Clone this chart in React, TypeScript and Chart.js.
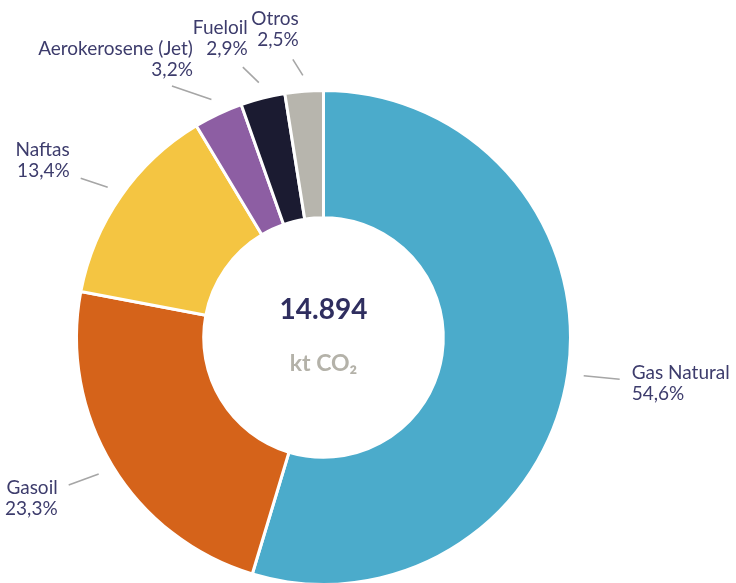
import React, { useEffect, useRef } from "react";
import { Chart, registerables } from "chart.js";

Chart.register(...registerables);

const categories = ["Gas Natural", "Gasoil", "Naftas", "Aerokerosene (Jet)", "Fueloil", "Otros"];
const shares = [54.6, 23.3, 13.4, 3.2, 2.9, 2.5];
const totalKt = 14894;
const unitLabel = "kt CO₂";

const colors = ["#4BABCB", "#D5631A", "#F4C542", "#8D5EA3", "#1B1B31", "#B7B5AD"];

// label layout relative to the arc anchor point (just outside each slice)
const labelLayout = [
  { lx: 36, ly: 3.5, tx: 48, ty: -2.5, align: "left" },
  { lx: -30, ly: 11, tx: -41, ty: 14, align: "right" },
  { lx: -27, ly: -9, tx: -38, ty: -37, align: "right" },
  { lx: -39.5, ly: -13.5, tx: -18.5, ty: -50.5, align: "right" },
  { lx: -16, ly: -15.5, tx: -11, ty: -54.5, align: "right" },
  { lx: -10, ly: -16, tx: -4, ty: -56, align: "right" },
];

const FONT = "Lato, 'Open Sans', sans-serif";

const labelsPlugin = {
  id: "outerLabels",
  afterDraw(chart: any) {
    const ctx = chart.ctx;
    const meta = chart.getDatasetMeta(0);
    ctx.save();
    meta.data.forEach((arc: any, i: number) => {
      const p = arc.getProps(["x", "y", "startAngle", "endAngle", "outerRadius"], true);
      const mid = (p.startAngle + p.endAngle) / 2;
      const r = p.outerRadius + 16;
      const ax = p.x + Math.cos(mid) * r;
      const ay = p.y + Math.sin(mid) * r;
      const L = labelLayout[i];
      ctx.strokeStyle = "#A6A6A6";
      ctx.lineWidth = 1.6;
      ctx.beginPath();
      ctx.moveTo(ax, ay);
      ctx.lineTo(ax + L.lx, ay + L.ly);
      ctx.stroke();
      ctx.fillStyle = "#3D3C6C";
      ctx.font = `19px ${FONT}`;
      ctx.textAlign = L.align;
      ctx.textBaseline = "middle";
      const pct = shares[i].toFixed(1).replace(".", ",") + "%";
      ctx.fillText(categories[i], ax + L.tx, ay + L.ty);
      ctx.fillText(pct, ax + L.tx, ay + L.ty + 21);
    });
    // center text
    const a0 = meta.data[0];
    const cx = a0.x;
    const cy = a0.y;
    ctx.textAlign = "center";
    ctx.textBaseline = "middle";
    ctx.fillStyle = "#2F2E5F";
    ctx.font = `bold 28px ${FONT}`;
    ctx.fillText(totalKt.toLocaleString("de-DE"), cx, cy - 28);
    ctx.fillStyle = "#B4B2A9";
    ctx.font = `bold 23px ${FONT}`;
    ctx.fillText(unitLabel, cx, cy + 26);
    ctx.restore();
  },
};

export default function App() {
  const ref = useRef<HTMLCanvasElement>(null);
  useEffect(() => {
    document.body.style.margin = "0";
    document.body.style.overflow = "hidden";
    const chart = new Chart(ref.current!, {
      type: "doughnut",
      data: {
        labels: categories,
        datasets: [
          {
            data: shares,
            backgroundColor: colors,
            borderColor: "#FFFFFF",
            borderWidth: 3,
          },
        ],
      },
      options: {
        responsive: false,
        animation: false,
        cutout: "48.5%",
        layout: { padding: { left: 75, top: 89, right: 164, bottom: 14 } },
        plugins: { legend: { display: false }, tooltip: { enabled: false } },
      },
      plugins: [labelsPlugin],
    });
    return () => chart.destroy();
  }, []);
  return (
    <div style={{ width: 736, height: 583, overflow: "hidden", background: "#fff" }}>
      <canvas ref={ref} width={736} height={600} style={{ display: "block" }} />
    </div>
  );
}
